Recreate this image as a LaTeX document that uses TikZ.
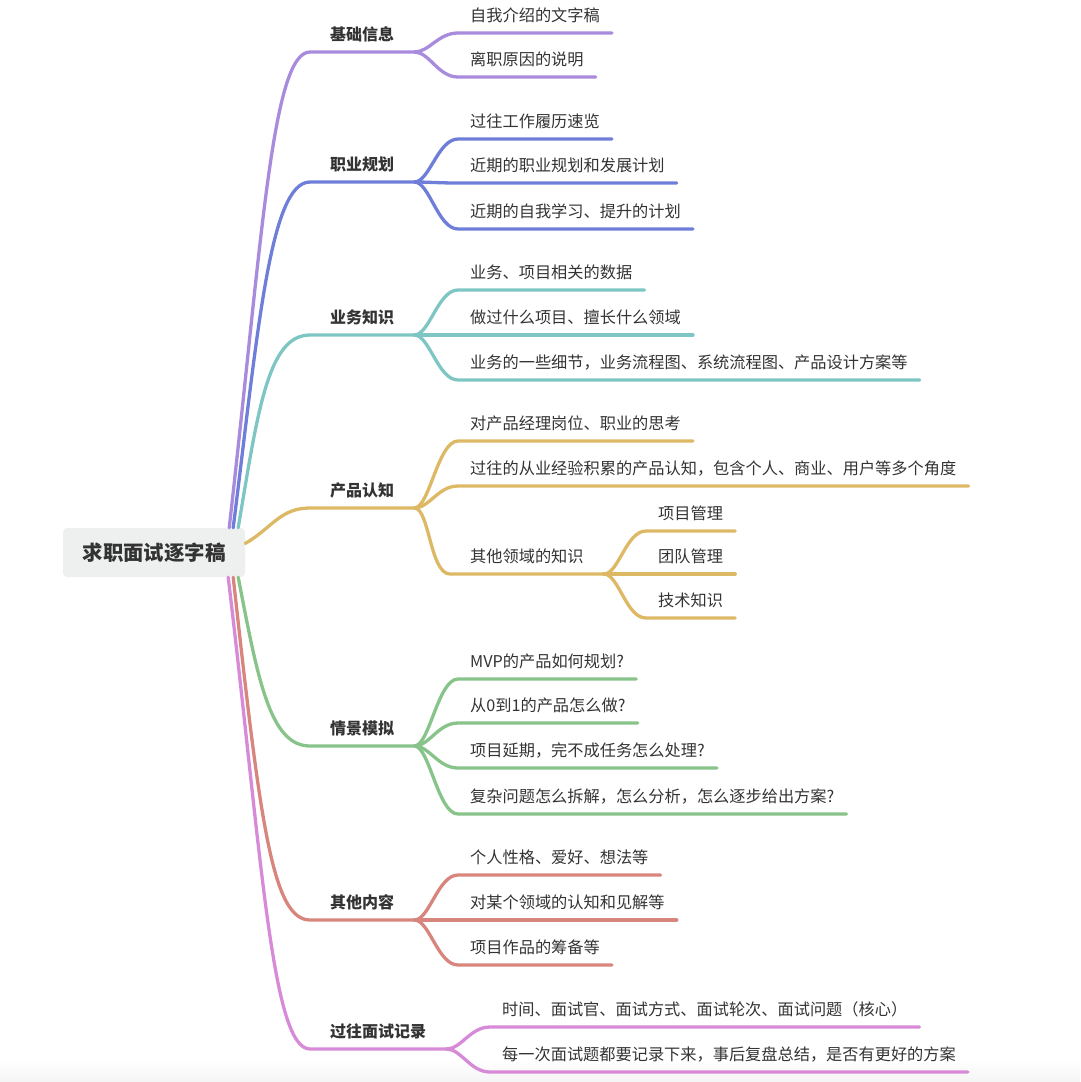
\documentclass[tikz,border=0pt]{standalone}
\usepackage{fontspec}
\setmainfont{Noto Sans CJK SC}
\definecolor{ink}{HTML}{333333}
\definecolor{rootfill}{HTML}{EEF0F0}
\definecolor{cpurple}{HTML}{A98BDD}
\definecolor{cblue}{HTML}{6E7ED9}
\definecolor{cteal}{HTML}{7EC6C3}
\definecolor{cgold}{HTML}{DDB865}
\definecolor{cgreen}{HTML}{88C38A}
\definecolor{csalmon}{HTML}{D8857E}
\definecolor{cpink}{HTML}{D78AD8}

\begin{document}
\begin{tikzpicture}[x=1pt, y=-1pt,
  rootbox/.style={fill=rootfill, rounded corners=4pt, minimum width=182pt, minimum height=49pt, font=\fontsize{20.4}{24}\selectfont\bfseries, text=ink},
  topic/.style={anchor=south west, inner xsep=20pt, inner ysep=7.5pt, text height=12pt, text depth=3.5pt, font=\fontsize{16}{19}\selectfont\bfseries, text=ink},
  leaf/.style={anchor=south west, inner xsep=12pt, inner ysep=7.5pt, text height=12pt, text depth=3.5pt, font=\fontsize{16.2}{19}\selectfont, text=ink},
  sub/.style={leaf, inner xsep=20pt},
  link/.style={line width=3.3pt, line cap=round}]

\useasboundingbox (0,0) rectangle (1080,1082);
\shade[top color=white, bottom color=black!4] (0,1060) rectangle (1080,1082);

\node[rootbox] (root) at (154,552.5) {求职面试逐字稿};

\node[topic] (b1) at (310,52) {基础信息};
\node[topic] (b2) at (310,182) {职业规划};
\node[topic] (b3) at (310,335) {业务知识};
\node[topic] (b4) at (310,508) {产品认知};
\node[topic] (b5) at (310,746) {情景模拟};
\node[topic] (b6) at (310,920) {其他内容};
\node[topic] (b7) at (310,1049) {过往面试记录};

\node[leaf] (c11) at (458,33) {自我介绍的文字稿};
\node[leaf] (c12) at (458,77) {离职原因的说明};

\node[leaf] (c21) at (458,139) {过往工作履历速览};
\node[leaf] (c22) at (458,183) {近期的职业规划和发展计划};
\node[leaf] (c23) at (458,229) {近期的自我学习、提升的计划};

\node[leaf] (c31) at (458,290) {业务、项目相关的数据};
\node[leaf] (c32) at (458,335) {做过什么项目、擅长什么领域};
\node[leaf] (c33) at (458,380) {业务的一些细节，业务流程图、系统流程图、产品设计方案等};

\node[leaf] (c41) at (458,441) {对产品经理岗位、职业的思考};
\node[leaf] (c42) at (458,486) {过往的从业经验积累的产品认知，包含个人、商业、用户等多个角度};
\node[sub] (c43) at (450,574) {其他领域的知识};
\node[leaf] (g1) at (646,531) {项目管理};
\node[leaf] (g2) at (646,574) {团队管理};
\node[leaf] (g3) at (646,618) {技术知识};

\node[leaf] (c51) at (458,679) {MVP的产品如何规划?};
\node[leaf] (c52) at (458,723) {从0到1的产品怎么做?};
\node[leaf] (c53) at (458,768) {项目延期，完不成任务怎么处理?};
\node[leaf] (c54) at (458,814) {复杂问题怎么拆解，怎么分析，怎么逐步给出方案?};

\node[leaf] (c61) at (458,875) {个人性格、爱好、想法等};
\node[leaf] (c62) at (458,920) {对某个领域的认知和见解等};
\node[leaf] (c63) at (458,965) {项目作品的筹备等};

\node[leaf] (c71) at (490,1027) {时间、面试官、面试方式、面试轮次、面试问题（核心）};
\node[leaf] (c72) at (490,1072) {每一次面试题都要记录下来，事后复盘总结，是否有更好的方案};

\draw[link, cpurple] ([xshift=-16pt]root.north east) .. controls (262,240) and (272,52) .. (b1.south west) -- (b1.south east);
\draw[link, cblue] ([xshift=-12pt]root.north east) .. controls (258,330) and (270,182) .. (b2.south west) -- (b2.south east);
\draw[link, cteal] ([xshift=-7pt]root.north east) .. controls (258,410) and (268,335) .. (b3.south west) -- (b3.south east);
\draw[link, cgold] ([yshift=9pt]root.east) .. controls (272,528) and (280,508) .. (b4.south west) -- (b4.south east);
\draw[link, cgreen] ([xshift=-7pt]root.south east) .. controls (258,680) and (270,746) .. (b5.south west) -- (b5.south east);
\draw[link, csalmon] ([xshift=-12pt]root.south east) .. controls (260,820) and (272,920) .. (b6.south west) -- (b6.south east);
\draw[link, cpink] ([xshift=-17pt]root.south east) .. controls (262,860) and (272,1049) .. (b7.south west) -- (b7.south east);

\draw[link, cpurple] (b1.south east) .. controls +(15,0) and +(-20,0) .. (c11.south west) -- (c11.south east);
\draw[link, cpurple] (b1.south east) .. controls +(15,0) and +(-20,0) .. (c12.south west) -- (c12.south east);

\draw[link, cblue] (b2.south east) .. controls +(15,0) and +(-20,0) .. (c21.south west) -- (c21.south east);
\draw[link, cblue] (b2.south east) .. controls +(15,0) and +(-20,0) .. (c22.south west) -- (c22.south east);
\draw[link, cblue] (b2.south east) .. controls +(15,0) and +(-20,0) .. (c23.south west) -- (c23.south east);

\draw[link, cteal] (b3.south east) .. controls +(15,0) and +(-20,0) .. (c31.south west) -- (c31.south east);
\draw[link, cteal] (b3.south east) .. controls +(15,0) and +(-20,0) .. (c32.south west) -- (c32.south east);
\draw[link, cteal] (b3.south east) .. controls +(15,0) and +(-20,0) .. (c33.south west) -- (c33.south east);

\draw[link, cgold] (b4.south east) .. controls +(15,0) and +(-20,0) .. (c41.south west) -- (c41.south east);
\draw[link, cgold] (b4.south east) .. controls +(15,0) and +(-20,0) .. (c42.south west) -- (c42.south east);
\draw[link, cgold] (b4.south east) .. controls +(15,0) and +(-20,0) .. (c43.south west) -- (c43.south east);
\draw[link, cgold] (c43.south east) .. controls +(15,0) and +(-20,0) .. (g1.south west) -- (g1.south east);
\draw[link, cgold] (c43.south east) .. controls +(15,0) and +(-20,0) .. (g2.south west) -- (g2.south east);
\draw[link, cgold] (c43.south east) .. controls +(15,0) and +(-20,0) .. (g3.south west) -- (g3.south east);

\draw[link, cgreen] (b5.south east) .. controls +(15,0) and +(-20,0) .. (c51.south west) -- (c51.south east);
\draw[link, cgreen] (b5.south east) .. controls +(15,0) and +(-20,0) .. (c52.south west) -- (c52.south east);
\draw[link, cgreen] (b5.south east) .. controls +(15,0) and +(-20,0) .. (c53.south west) -- (c53.south east);
\draw[link, cgreen] (b5.south east) .. controls +(15,0) and +(-20,0) .. (c54.south west) -- (c54.south east);

\draw[link, csalmon] (b6.south east) .. controls +(15,0) and +(-20,0) .. (c61.south west) -- (c61.south east);
\draw[link, csalmon] (b6.south east) .. controls +(15,0) and +(-20,0) .. (c62.south west) -- (c62.south east);
\draw[link, csalmon] (b6.south east) .. controls +(15,0) and +(-20,0) .. (c63.south west) -- (c63.south east);

\draw[link, cpink] (b7.south east) .. controls +(15,0) and +(-20,0) .. (c71.south west) -- (c71.south east);
\draw[link, cpink] (b7.south east) .. controls +(15,0) and +(-20,0) .. (c72.south west) -- (c72.south east);

\end{tikzpicture}
\end{document}
